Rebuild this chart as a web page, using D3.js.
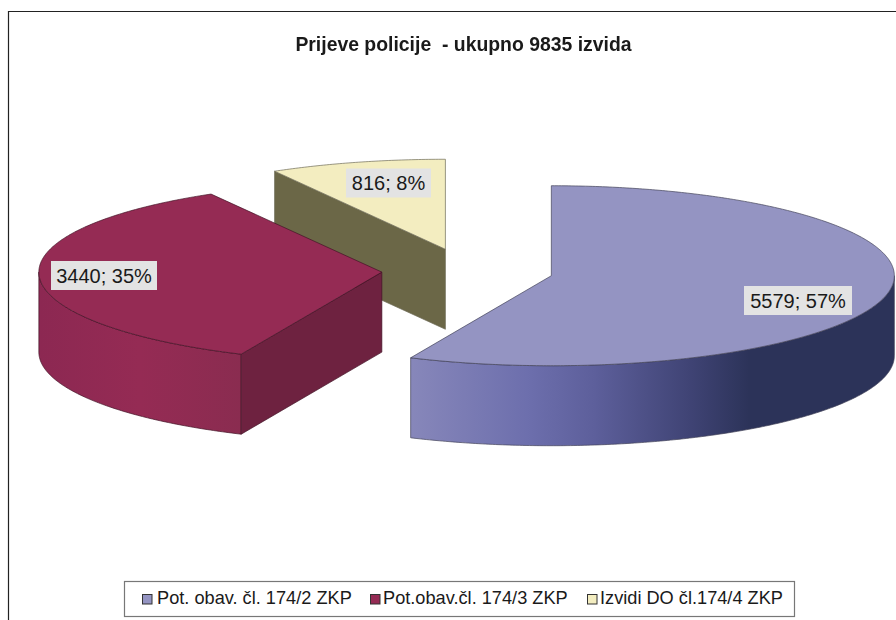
<!DOCTYPE html>
<html><head><meta charset="utf-8">
<script src="https://cdn.jsdelivr.net/npm/d3@7"></script>
<style>html,body{margin:0;padding:0;background:#fff}svg{display:block;filter:blur(0.35px)}text{font-family:"Liberation Sans",Arial,sans-serif;fill:#1a1a1a}</style>
</head><body><div id="c"></div>
<script>
const categories=["Pot. obav. čl. 174/2 ZKP","Pot.obav.čl. 174/3 ZKP","Izvidi DO čl.174/4 ZKP"];
const values=[5579,3440,816];
const percents=[57,35,8];
const chartTitle="Prijeve policije  - ukupno 9835 izvida";
const topColors=["#9494c2","#952b54","#f3edc0"];
const cutColors=["#6b6dab","#6e2240","#6b6747"];
const wallStops=[
 [[0,"#8787ba"],[0.24,"#6d6fad"],[0.38,"#5d5f9b"],[0.58,"#3f4374"],[0.7,"#2c3359"],[1,"#2c3359"]],
 [[0,"#8c2852"],[0.5,"#952b54"],[1,"#8a2c50"]],
 [[0,"#6b6747"],[1,"#6b6747"]]];
const W=896,H=620,cx=467.5,cy=271,rx=343,ry=90,depth=80,explode=0.25;

const svg=d3.select("#c").append("svg").attr("width",W).attr("height",H);
const defs=svg.append("defs");
svg.append("path").attr("d",`M8.5,${H}V11.5H${W}`).attr("fill","none").attr("stroke","#222").attr("stroke-width",1.2);
svg.append("text").attr("x",463.5).attr("y",51).attr("text-anchor","middle").attr("font-size",19.4).attr("font-weight","bold").attr("xml:space","preserve").text(chartTitle);

const pie=d3.pie().sort(null).value(d=>d);
const arcs=pie(values);
const order=[2,1,0];
const px=(a,c)=>c+rx*Math.sin(a), py=(a,c)=>c-ry*Math.cos(a);
const line=d3.line().x(d=>d[0]).y(d=>d[1]);
function arcPts(a0,a1,ax,ay,dy=0){
  const n=Math.max(2,Math.ceil(Math.abs(a1-a0)/0.01));
  return d3.range(n+1).map(i=>{const a=a0+(a1-a0)*i/n;return [px(a,ax),py(a,ay)+dy];});
}
const centres=arcs.map(d=>{const m=(d.startAngle+d.endAngle)/2;
  return [cx+explode*rx*Math.sin(m),cy-explode*ry*Math.cos(m)];});

order.forEach(i=>{
  const d=arcs[i],[ax,ay]=centres[i],g=svg.append("g");
  const edge=d3.color(topColors[i]).darker(2.2).formatHex();
  // outer wall: visible only between 90° and 270° of the ellipse
  const a0=Math.max(d.startAngle,Math.PI/2),a1=Math.min(d.endAngle,Math.PI*1.5);
  if(a1>a0){
    const top=arcPts(a0,a1,ax,ay),bot=arcPts(a0,a1,ax,ay,depth).reverse();
    const xs=top.map(p=>p[0]);
    const grad=defs.append("linearGradient").attr("id","w"+i).attr("gradientUnits","userSpaceOnUse")
      .attr("x1",d3.min(xs)).attr("x2",d3.max(xs)).attr("y1",0).attr("y2",0);
    wallStops[i].forEach(s=>grad.append("stop").attr("offset",s[0]).attr("stop-color",s[1]));
    g.append("path").attr("d",line(top.concat(bot))+"Z").attr("fill",`url(#w${i})`).attr("stroke",edge).attr("stroke-width",.7);
  }
  // cut face turned towards the viewer
  if(i>0){
    const ex=px(d.startAngle,ax),ey=py(d.startAngle,ay);
    g.append("path").attr("d",line([[ax,ay],[ex,ey],[ex,ey+depth],[ax,ay+depth]])+"Z")
      .attr("fill",cutColors[i]).attr("stroke",edge).attr("stroke-width",.7);
  }
  const pts=[[ax,ay]].concat(arcPts(d.startAngle,d.endAngle,ax,ay));
  g.append("path").attr("d",line(pts)+"Z").attr("fill",topColors[i]).attr("stroke",edge).attr("stroke-width",.7);
});

// data labels
const labelAnchor=[[798,300.5],[104,275.5],[388.5,183]];
const labelWidth=[108,106,85];
values.forEach((v,i)=>{
  const g=svg.append("g").attr("transform",`translate(${labelAnchor[i]})`);
  g.append("rect").attr("x",-labelWidth[i]/2).attr("y",-14.5).attr("width",labelWidth[i]).attr("height",29).attr("fill","#e3e3e3");
  g.append("text").attr("text-anchor","middle").attr("y",7).attr("font-size",20).text(`${v}; ${percents[i]}%`);
});

// legend
const lx=[142,370,587],tx=[157,383,600];
svg.append("rect").attr("x",124.5).attr("y",581.5).attr("width",670).attr("height",35).attr("fill","#fff").attr("stroke","#777").attr("stroke-width",1.2);
categories.forEach((c,i)=>{
  svg.append("rect").attr("x",lx[i]+.5).attr("y",594.5).attr("width",9.5).attr("height",9.5).attr("fill",topColors[i]).attr("stroke","#333").attr("stroke-width",1);
  svg.append("text").attr("x",tx[i]).attr("y",604).attr("font-size",18.2).text(c);
});
</script></body></html>
